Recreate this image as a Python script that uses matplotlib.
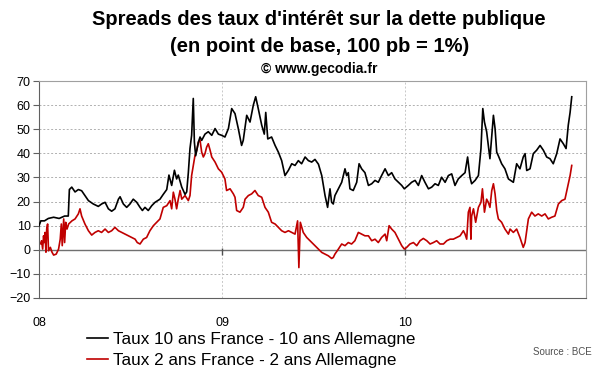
import matplotlib
matplotlib.use("Agg")
import matplotlib.pyplot as plt

plt.rcParams['font.family'] = ['Liberation Sans', 'DejaVu Sans']

# years since 2008 / spread in basis points
t10 = [0.000, 0.010, 0.030, 0.051, 0.080, 0.110, 0.140, 0.160, 0.166, 0.179, 0.197, 0.215,
       0.233, 0.251, 0.270, 0.297, 0.324, 0.342, 0.361, 0.379, 0.397, 0.415, 0.434, 0.443,
       0.461, 0.479, 0.497, 0.515, 0.534, 0.552, 0.565, 0.579, 0.597, 0.616, 0.634, 0.661,
       0.679, 0.698, 0.710, 0.725, 0.740, 0.752, 0.761, 0.780, 0.798, 0.807, 0.816, 0.825,
       0.834, 0.843, 0.849, 0.856, 0.871, 0.880, 0.889, 0.907, 0.925, 0.944, 0.962, 0.980,
       0.998, 1.016, 1.035, 1.053, 1.071, 1.089, 1.107, 1.116, 1.135, 1.153, 1.171, 1.184,
       1.198, 1.217, 1.231, 1.239, 1.250, 1.271, 1.290, 1.308, 1.326, 1.344, 1.363, 1.381,
       1.399, 1.417, 1.435, 1.454, 1.472, 1.490, 1.508, 1.527, 1.545, 1.563, 1.577, 1.590,
       1.599, 1.608, 1.617, 1.636, 1.654, 1.672, 1.681, 1.690, 1.699, 1.717, 1.736, 1.749,
       1.763, 1.781, 1.800, 1.818, 1.836, 1.854, 1.872, 1.891, 1.909, 1.927, 1.945, 1.964,
       1.982, 1.996, 2.018, 2.036, 2.055, 2.073, 2.091, 2.109, 2.128, 2.146, 2.164, 2.182,
       2.200, 2.219, 2.237, 2.255, 2.273, 2.291, 2.310, 2.328, 2.342, 2.355, 2.364, 2.383,
       2.401, 2.415, 2.425, 2.434, 2.446, 2.455, 2.464, 2.474, 2.483, 2.492, 2.501, 2.510,
       2.528, 2.546, 2.565, 2.592, 2.610, 2.628, 2.646, 2.656, 2.665, 2.683, 2.701, 2.719,
       2.738, 2.756, 2.774, 2.792, 2.810, 2.829, 2.847, 2.865, 2.880, 2.892, 2.902, 2.911]
v10 = [10, 12, 12, 13, 13.5, 13, 14, 14, 25, 26, 24, 25,
       24.5, 22.5, 20.4, 19, 18, 19, 19.7, 17, 16, 17, 21, 22,
       19, 17.6, 19, 21, 19.7, 17.6, 16.3, 17.6, 16.3, 18.3, 19.7, 21,
       23, 25, 31, 26.7, 33, 29.4, 31, 26, 23, 24, 32, 42,
       47.5, 62.8, 44.7, 39, 44.7, 46.8, 45.4, 48, 49, 47.5, 50.3, 48,
       47.5, 46.8, 50.3, 58.6, 56.5, 50.3, 43.3, 45.4, 55.8, 53, 60, 63.5,
       58.6, 51.7, 48, 57, 46, 46.8, 43.3, 40.5, 37, 30.8, 33, 35.7,
       35, 37, 35.7, 38.5, 37, 36.4, 37.5, 35.5, 30.8, 22.5, 17.6, 25.3,
       19.7, 19, 22.5, 25.3, 28, 33.6, 30.8, 32, 25.3, 24.6, 28, 35.7,
       33.6, 32, 26.7, 27.4, 28.8, 28, 30.8, 33.6, 30.8, 32, 29.4, 28,
       26.7, 25.3, 26.7, 28, 28.8, 26.7, 30.8, 28, 25.3, 26, 27.4, 26.7,
       30.1, 28, 30.8, 31.5, 26.7, 29.4, 30.8, 32, 38.5, 30.1, 27.4, 28.8,
       30.8, 42, 58.6, 53, 49, 43.3, 37.8, 47.5, 55.8, 50.3, 40.5, 39,
       35.7, 33.6, 29.4, 28, 35.7, 33.6, 38.5, 39.9, 32.9, 33.6, 39.9, 41.3,
       43.3, 41.3, 38.5, 37.8, 35.7, 39.9, 46, 44, 42, 51.7, 57, 63.5]

t2 = [0.000, 0.010, 0.014, 0.020, 0.025, 0.029, 0.033, 0.038, 0.042, 0.047, 0.052, 0.062,
      0.071, 0.080, 0.094, 0.107, 0.116, 0.122, 0.127, 0.135, 0.140, 0.146, 0.153, 0.162,
      0.180, 0.197, 0.215, 0.224, 0.233, 0.251, 0.270, 0.288, 0.306, 0.324, 0.342, 0.361,
      0.379, 0.397, 0.415, 0.434, 0.452, 0.470, 0.488, 0.506, 0.525, 0.537, 0.552, 0.570,
      0.588, 0.606, 0.625, 0.643, 0.661, 0.679, 0.698, 0.716, 0.725, 0.734, 0.743, 0.752,
      0.761, 0.771, 0.780, 0.798, 0.816, 0.825, 0.834, 0.843, 0.852, 0.862, 0.871, 0.880,
      0.889, 0.898, 0.907, 0.916, 0.925, 0.935, 0.944, 0.962, 0.980, 0.998, 1.016, 1.025,
      1.044, 1.062, 1.071, 1.080, 1.098, 1.116, 1.126, 1.144, 1.162, 1.180, 1.198, 1.217,
      1.235, 1.253, 1.271, 1.290, 1.308, 1.326, 1.344, 1.363, 1.381, 1.399, 1.413, 1.420,
      1.428, 1.444, 1.463, 1.481, 1.499, 1.517, 1.527, 1.545, 1.563, 1.581, 1.599, 1.608,
      1.617, 1.636, 1.654, 1.672, 1.690, 1.708, 1.726, 1.745, 1.763, 1.781, 1.800, 1.818,
      1.836, 1.854, 1.872, 1.891, 1.900, 1.913, 1.927, 1.945, 1.964, 1.982, 1.996, 2.009,
      2.027, 2.046, 2.064, 2.082, 2.100, 2.119, 2.137, 2.155, 2.173, 2.191, 2.210, 2.228,
      2.246, 2.264, 2.282, 2.301, 2.319, 2.328, 2.337, 2.346, 2.355, 2.360, 2.364, 2.374,
      2.386, 2.401, 2.415, 2.423, 2.434, 2.446, 2.455, 2.464, 2.474, 2.483, 2.492, 2.501,
      2.510, 2.528, 2.546, 2.565, 2.574, 2.592, 2.610, 2.628, 2.646, 2.656, 2.674, 2.692,
      2.710, 2.728, 2.747, 2.765, 2.783, 2.801, 2.819, 2.838, 2.856, 2.874, 2.892, 2.902,
      2.911]
v2 = [3, 2.4, 3.75, 0.3, 5.8, 3, 7.2, -1, 8.6, 10.7, -0.4, 1,
      -1, -2.2, -1.8, 0.3, 4.4, 10.7, 1.7, 12.8, 3, 11.4, 8.6, 10.7,
      12, 12.8, 14.9, 17, 14, 10.7, 7.9, 6.1, 7.2, 7.9, 7.2, 8.6,
      7.2, 7.9, 9.3, 7.9, 7.2, 6.5, 5.8, 5.1, 4.4, 3, 2.4, 4.4,
      5.1, 7.9, 10, 11.4, 12.8, 17.6, 18.3, 20.4, 17, 23.9, 21, 17,
      21, 24.6, 21, 22.5, 20.4, 22.5, 30.8, 35, 39, 41.3, 44.7, 45.4,
      40.5, 38.5, 39.9, 42.6, 44, 41.3, 38.5, 36.4, 33.6, 32.2, 29.4, 24.6,
      25.3, 23.2, 21.8, 16.3, 15.6, 17.6, 21, 22.5, 23.2, 24.6, 22.5, 21.8,
      17.6, 15.6, 11.4, 10.7, 9.3, 7.9, 7.2, 7.9, 7.2, 6.5, 12, -7.4,
      11.4, 7.2, 5.1, 3.75, 2.4, 1, 0.3, -1.1, -1.8, -2.5, -3.6, -3.2,
      -1.8, 0.3, 2.4, 1.7, 3, 2.4, 3.75, 7.2, 6.5, 5.8, 5.8, 3.75,
      4.4, 3, 5.1, 6.5, 3.75, 10, 8.6, 7.2, 4.4, 1.7, 0.3, 1,
      2.4, 3, 1.7, 3.75, 4.7, 3.75, 2.4, 3, 3.75, 2.4, 2.4, 3.75,
      4.4, 4.4, 5.1, 5.8, 7.9, 6.5, 4.4, 15.6, 17.6, 4.4, 14, 17,
      11.4, 17.6, 19.7, 25.3, 15.6, 21, 19.7, 17.6, 24.6, 27.4, 23.2, 16.3,
      12.8, 11.4, 8.6, 6.5, 8.6, 7.2, 8.6, 5.1, 1, 3, 12.8, 15.6,
      14, 14.9, 14, 14.9, 12.8, 13.5, 14, 19, 20.4, 21, 27.4, 30.8,
      35]

year_ticks = [2008, 2009, 2010]
year_labels = ['08', '09', '10']
y_ticks = [-20, -10, 0, 10, 20, 30, 40, 50, 60, 70]

x10 = [2008 + t for t in t10]
x2 = [2008 + t for t in t2]

fig = plt.figure(figsize=(6, 3.72), dpi=100)
ax = fig.add_axes([0.065, 0.199, 0.912, 0.583])

for y in y_ticks:
    if y != 0:
        ax.axhline(y, color='#b0b0b0', lw=0.7, ls=(0, (2, 2)), zorder=0)
for x in year_ticks[1:]:
    ax.axvline(x, color='#c8c8c8', lw=0.7, ls=(0, (2, 2)), zorder=0)
ax.axhline(0, color='#707070', lw=1.0, zorder=1)
ax.vlines(year_ticks[1:], -2.2, 0.8, color='#505050', lw=1.0, zorder=1)

l1, = ax.plot(x10, v10, color='black', lw=1.2, zorder=3)
l2, = ax.plot(x2, v2, color='#c00000', lw=1.2, zorder=2)

ax.set_xlim(2008, 2010.99)
ax.set_ylim(-20, 70)
ax.set_yticks(y_ticks)
ax.set_xticks(year_ticks)
ax.set_xticklabels(year_labels)
ax.tick_params(axis='y', labelsize=9, length=4, color='#606060', pad=2)
ax.tick_params(axis='x', labelsize=9, length=0, pad=14)
for s in ['top', 'right']:
    ax.spines[s].set_color('#a0a0a0')
for s in ['left', 'bottom']:
    ax.spines[s].set_color('#606060')

fig.text(0.532, 0.948, "Spreads des taux d'intérêt sur la dette publique",
         ha='center', va='center', fontsize=14.5, fontweight='bold')
fig.text(0.532, 0.876, "(en point de base, 100 pb = 1%)",
         ha='center', va='center', fontsize=14.5, fontweight='bold')
fig.text(0.532, 0.814, "© www.gecodia.fr",
         ha='center', va='center', fontsize=10, fontweight='bold')

fig.legend([l1, l2], ["Taux 10 ans France - 10 ans Allemagne",
                      "Taux 2 ans France - 2 ans Allemagne"],
           loc='upper left', bbox_to_anchor=(0.145, 0.108), frameon=False,
           fontsize=12.3, handlelength=1.25, handletextpad=0.25, labelspacing=0.38,
           borderpad=0, borderaxespad=0)
fig.text(0.987, 0.055, "Source : BCE", ha='right', va='center', fontsize=7, color='#505050')

fig.savefig('out.png', dpi=100)
